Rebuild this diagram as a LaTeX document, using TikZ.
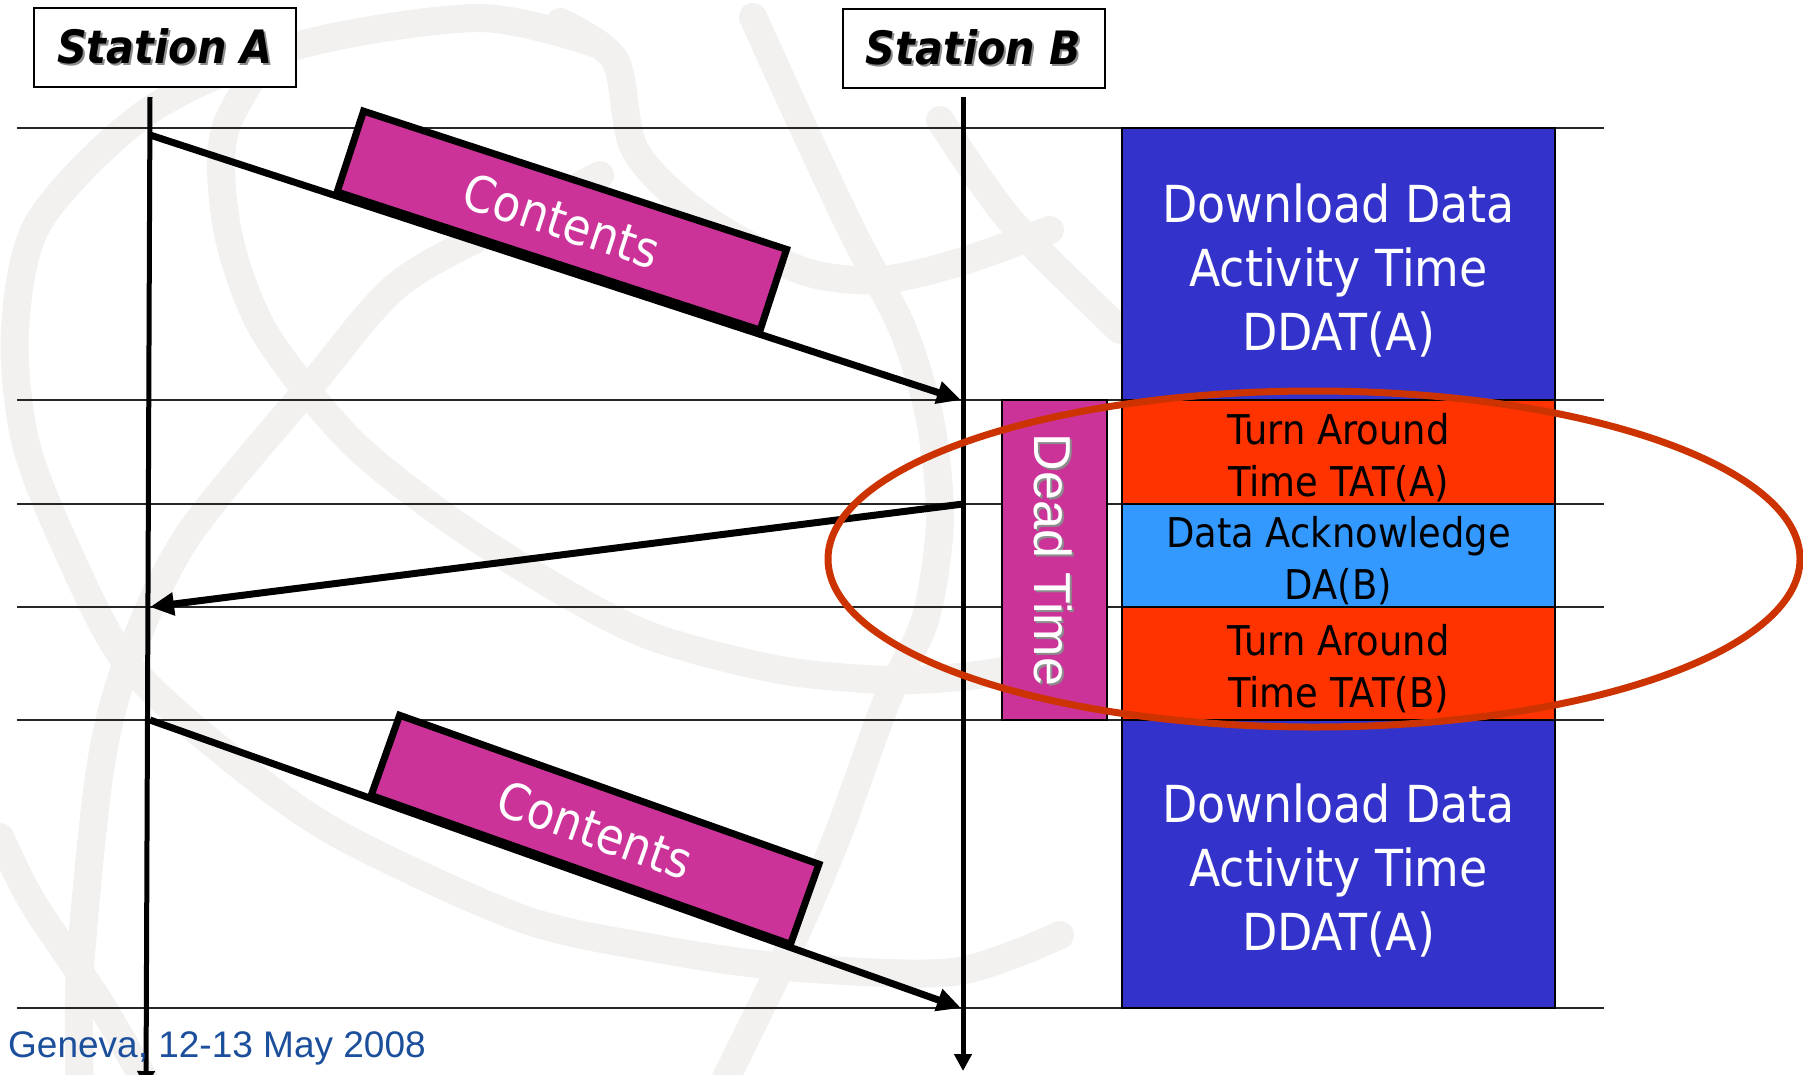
\documentclass[tikz,border=0pt]{standalone}
\usepackage{fontspec}
\usetikzlibrary{arrows.meta}
\newfontfamily\boxfont{DejaVu Sans}[FakeStretch=0.9]
\newfontfamily\stationfont{DejaVu Sans Bold Oblique}[FakeStretch=0.9]
\newfontfamily\footfont{Liberation Sans}
\definecolor{ddat}{RGB}{51,51,204}
\definecolor{tat}{RGB}{255,51,0}
\definecolor{ack}{RGB}{51,153,255}
\definecolor{dead}{RGB}{204,51,153}
\definecolor{ringred}{RGB}{204,51,0}
\definecolor{globe}{RGB}{242,241,239}
\definecolor{footblue}{RGB}{27,79,156}
% text with a soft offset shadow: #1 = right shift, #2 = raise, #3 = text
\newcommand\shadowed[3]{\makebox[0pt][l]{\hspace{#1}\raisebox{#2}{\color{black!45}#3}}#3}
% taller first line, so the block of lines sits a little lower in its box
\newcommand\lowerby[1]{\rule{0pt}{#1}}
\begin{document}
\begin{tikzpicture}[x=1pt,y=-1pt,
  timeline/.style={line width=2, black!85},
  lifeline/.style={line width=5},
  msg/.style={line width=7, -{Triangle[length=24pt,width=22pt]}},
  globeband/.style={draw=globe, line width=28, line cap=round},
  stationbox/.style={draw, line width=2, fill=white, minimum width=262, minimum height=79,
    inner sep=0, font=\stationfont\fontsize{46}{46}\selectfont},
  contentsbox/.style={draw, line width=7, fill=dead, minimum width=445, minimum height=85,
    inner sep=0, outer sep=0, text=white, font=\boxfont\fontsize{50}{50}\selectfont},
  slot/.style={draw, line width=1.5, minimum width=433, inner sep=0, align=center},
  bigslot/.style={slot, fill=ddat, text=white, font=\boxfont\fontsize{51}{64}\selectfont},
  smallslot/.style={slot, font=\boxfont\fontsize{41}{52}\selectfont},
  deadbox/.style={draw, line width=2, fill=dead, text=white, rotate=-90,
    minimum width=320, minimum height=105, inner sep=0,
    font=\footfont\fontsize{52}{52}\selectfont},
  ring/.style={draw=ringred, line width=7},
]
\useasboundingbox (0,0) rectangle (1803,1074);
\fill[white] (0,0) rectangle (1803,1074);

% faint globe emblem in the background
\draw[globeband] plot[smooth] coordinates {(600,45) (480,18) (300,45) (150,110) (40,220) (15,330) (25,440) (65,545) (127,663) (233,760) (340,835) (520,918) (653,948) (787,967) (953,972) (1060,935)};
\draw[globeband] plot[smooth] coordinates {(80,1090) (80,970) (100,770) (127,663) (187,537) (313,383) (400,283) (520,217) (600,175)};
\draw[globeband] plot[smooth] coordinates {(0,837) (33,903) (100,1003) (150,1090)};
\draw[globeband] plot[smooth] coordinates {(283,33) (225,130) (228,233) (265,333) (350,440) (450,520) (560,590) (653,637) (780,670) (887,680) (960,677) (1010,670)};
\draw[globeband] plot[smooth] coordinates {(753,17) (803,127) (853,233) (903,330) (930,420) (940,520) (925,620) (887,700) (837,837) (787,953) (720,1090)};
\draw[globeband] plot[smooth] coordinates {(560,22) (615,60) (635,150) (700,215) (800,270) (880,280) (960,262) (1050,230)};
\draw[globeband] plot[smooth] coordinates {(940,120) (1010,220) (1120,330)};

% time grid
\foreach \y/\n in {128/t0,400/t1,504/t2,607/t3,720/t4,1008/t5} {
  \coordinate (\n-l) at (17,\y);
  \coordinate (\n-r) at (1604,\y);
  \draw[timeline] (\n-l) -- (\n-r);
}

% stations and their lifelines
\node[stationbox] (stA) at (165,47) {\shadowed{2pt}{-2pt}{Station A}};
\node[stationbox] (stB) at (973.5,48.5) {\shadowed{2pt}{-2pt}{Station B}};
\coordinate (A-top) at (150,97);
\coordinate (A-bot) at (146,1088);
\coordinate (B-top) at (963,97);
\coordinate (B-bot) at (963,1071);
\draw[lifeline, -{Triangle[length=17pt,width=17pt]}] (A-top) -- (A-bot);
\draw[lifeline, -{Triangle[length=17pt,width=17pt]}] (B-top) -- (B-bot);

% activity column
\node[bigslot, minimum height=272] (ddat1) at (1338.5,264) {\lowerby{51pt}Download Data\\Activity Time\\DDAT(A)};
\node[smallslot, fill=tat, minimum height=104] (tatA) at (1338.5,452) {\lowerby{42pt}Turn Around\\Time TAT(A)};
\node[smallslot, fill=ack, minimum height=103] (daB) at (1338.5,555.5) {\lowerby{41pt}Data Acknowledge\\DA(B)};
\node[smallslot, fill=tat, minimum height=113] (tatB) at (1338.5,663.5) {\lowerby{41pt}Turn Around\\Time TAT(B)};
\node[bigslot, minimum height=288] (ddat2) at (1338.5,864) {\lowerby{51pt}Download Data\\Activity Time\\DDAT(A)};
\node[deadbox] (dead) at (1054.5,560) {\shadowed{2pt}{2pt}{Dead Time}};

% messages
\coordinate (m1s) at (150,135);
\coordinate (m1e) at (961,400);
\coordinate (m2s) at (963,504);
\coordinate (m2e) at (150,607);
\coordinate (m3s) at (150,720);
\coordinate (m3e) at (961,1008);
\draw[msg] (m1s) -- node[contentsbox, sloped, anchor=south, pos=0.49, yshift=4pt] (c1) {Contents} (m1e);
\draw[msg] (m2s) -- (m2e);
\draw[msg] (m3s) -- node[contentsbox, sloped, anchor=south, pos=0.53, yshift=3pt] (c2) {Contents} (m3e);

% highlight ring round the turnaround interval
\coordinate (ringc) at (1314,559);
\draw[ring] (ringc) ellipse [x radius=486, y radius=168];

% footer
\node[anchor=base west, inner sep=0, text=footblue, font=\footfont\fontsize{37}{44}\selectfont] (foot) at (8,1057) {Geneva, 12-13 May 2008};
\end{tikzpicture}
\end{document}
